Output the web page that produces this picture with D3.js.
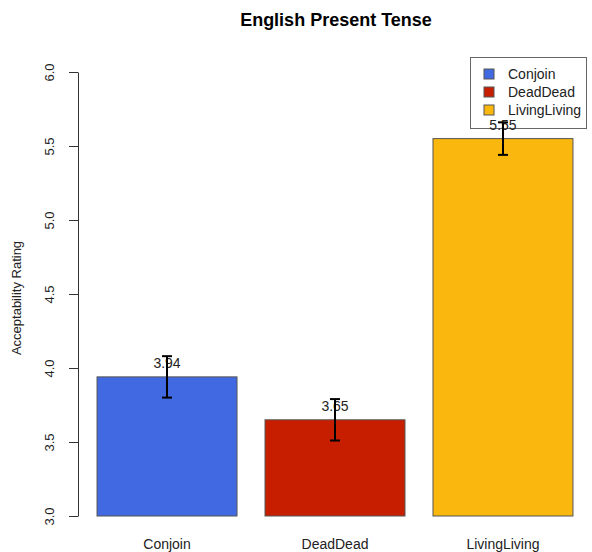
<!DOCTYPE html>
<html>
<head>
<meta charset="utf-8">
<script src="https://cdn.jsdelivr.net/npm/d3@7"></script>
<style>
  html, body { margin: 0; padding: 0; background: #fff; }
  svg { display: block; font-family: "Liberation Sans", Arial, sans-serif; }
</style>
</head>
<body>
<svg id="chart" width="592" height="552"></svg>
<script>
// Mean acceptability ratings per condition, with error half-widths
const categories = ["Conjoin", "DeadDead", "LivingLiving"];
const means = [3.94, 3.65, 5.55];
const errors = [0.14, 0.14, 0.11];
const valueLabels = ["3.94", "3.65", "5.55"];
const colors = ["#4169E1", "#C81E00", "#FAB70E"];
const yTicks = [3.0, 3.5, 4.0, 4.5, 5.0, 5.5, 6.0];

const svg = d3.select("#chart");

// Bar positions follow barplot layout: width 1, spacing 0.2
const barLeft = categories.map((_, i) => 0.2 + i * 1.2);
const x = d3.scaleLinear().domain([0.064, 3.736]).range([78, 592]);
const y = d3.scaleLinear().domain([3.0, 6.0]).range([516, 72]);

// Title
svg.append("text")
  .attr("x", 336).attr("y", 26)
  .attr("text-anchor", "middle")
  .attr("font-size", 18).attr("font-weight", "bold")
  .attr("fill", "#000")
  .text("English Present Tense");

// Bars
svg.selectAll("rect.bar").data(categories).enter().append("rect")
  .attr("class", "bar")
  .attr("x", (d, i) => x(barLeft[i]))
  .attr("width", (d, i) => x(barLeft[i] + 1) - x(barLeft[i]))
  .attr("y", (d, i) => y(means[i]))
  .attr("height", (d, i) => y(3.0) - y(means[i]))
  .attr("fill", (d, i) => colors[i])
  .attr("stroke", "#555")
  .attr("stroke-width", 1);

// Legend (drawn before the error bars and labels, which overlap it)
const lg = svg.append("g");
lg.append("rect")
  .attr("x", 470.5).attr("y", 57.5).attr("width", 116).attr("height", 71)
  .attr("fill", "#fff").attr("stroke", "#666");
categories.forEach((d, i) => {
  const ry = 74 + i * 18;
  lg.append("rect")
    .attr("x", 484).attr("y", ry - 5).attr("width", 10).attr("height", 10)
    .attr("fill", colors[i]).attr("stroke", "#555");
  lg.append("text")
    .attr("x", 508).attr("y", ry + 5)
    .attr("font-size", 14).attr("fill", "#222")
    .text(d);
});

// Value labels above each bar
svg.selectAll("text.val").data(categories).enter().append("text")
  .attr("class", "val")
  .attr("x", (d, i) => x(barLeft[i] + 0.5))
  .attr("y", (d, i) => y(means[i]) - 9)
  .attr("text-anchor", "middle")
  .attr("font-size", 14)
  .attr("fill", "#222")
  .text((d, i) => valueLabels[i]);

// Error bars
const eb = svg.append("g").attr("stroke", "#000").attr("stroke-width", 2);
categories.forEach((d, i) => {
  const cx = x(barLeft[i] + 0.5);
  const top = y(means[i] + errors[i]);
  const bot = y(means[i] - errors[i]);
  eb.append("line").attr("x1", cx).attr("x2", cx).attr("y1", top).attr("y2", bot);
  eb.append("line").attr("x1", cx - 5).attr("x2", cx + 5).attr("y1", top).attr("y2", top);
  eb.append("line").attr("x1", cx - 5).attr("x2", cx + 5).attr("y1", bot).attr("y2", bot);
});

// Category labels under the bars
svg.selectAll("text.cat").data(categories).enter().append("text")
  .attr("class", "cat")
  .attr("x", (d, i) => x(barLeft[i] + 0.5))
  .attr("y", 549)
  .attr("text-anchor", "middle")
  .attr("font-size", 14)
  .attr("fill", "#222")
  .text(d => d);

// Y axis with rotated tick labels
const yAxis = d3.axisLeft(y).tickValues(yTicks).tickFormat(d3.format(".1f")).tickSize(9).tickSizeOuter(0);
const ga = svg.append("g").attr("transform", "translate(78,0)").call(yAxis);
ga.select(".domain").attr("stroke", "#333");
ga.selectAll(".tick line").attr("stroke", "#333");
ga.selectAll(".tick text")
  .attr("font-size", 13)
  .attr("font-family", "Liberation Sans, Arial, sans-serif")
  .attr("fill", "#222")
  .attr("x", null)
  .attr("text-anchor", "middle")
  .attr("transform", "translate(-29,0) rotate(-90)")
  .attr("y", 0)
  .attr("dy", "0.35em");

// Y axis title
svg.append("text")
  .attr("transform", "translate(21,298) rotate(-90)")
  .attr("text-anchor", "middle")
  .attr("font-size", 13)
  .attr("fill", "#222")
  .text("Acceptability Rating");
</script>
</body>
</html>
